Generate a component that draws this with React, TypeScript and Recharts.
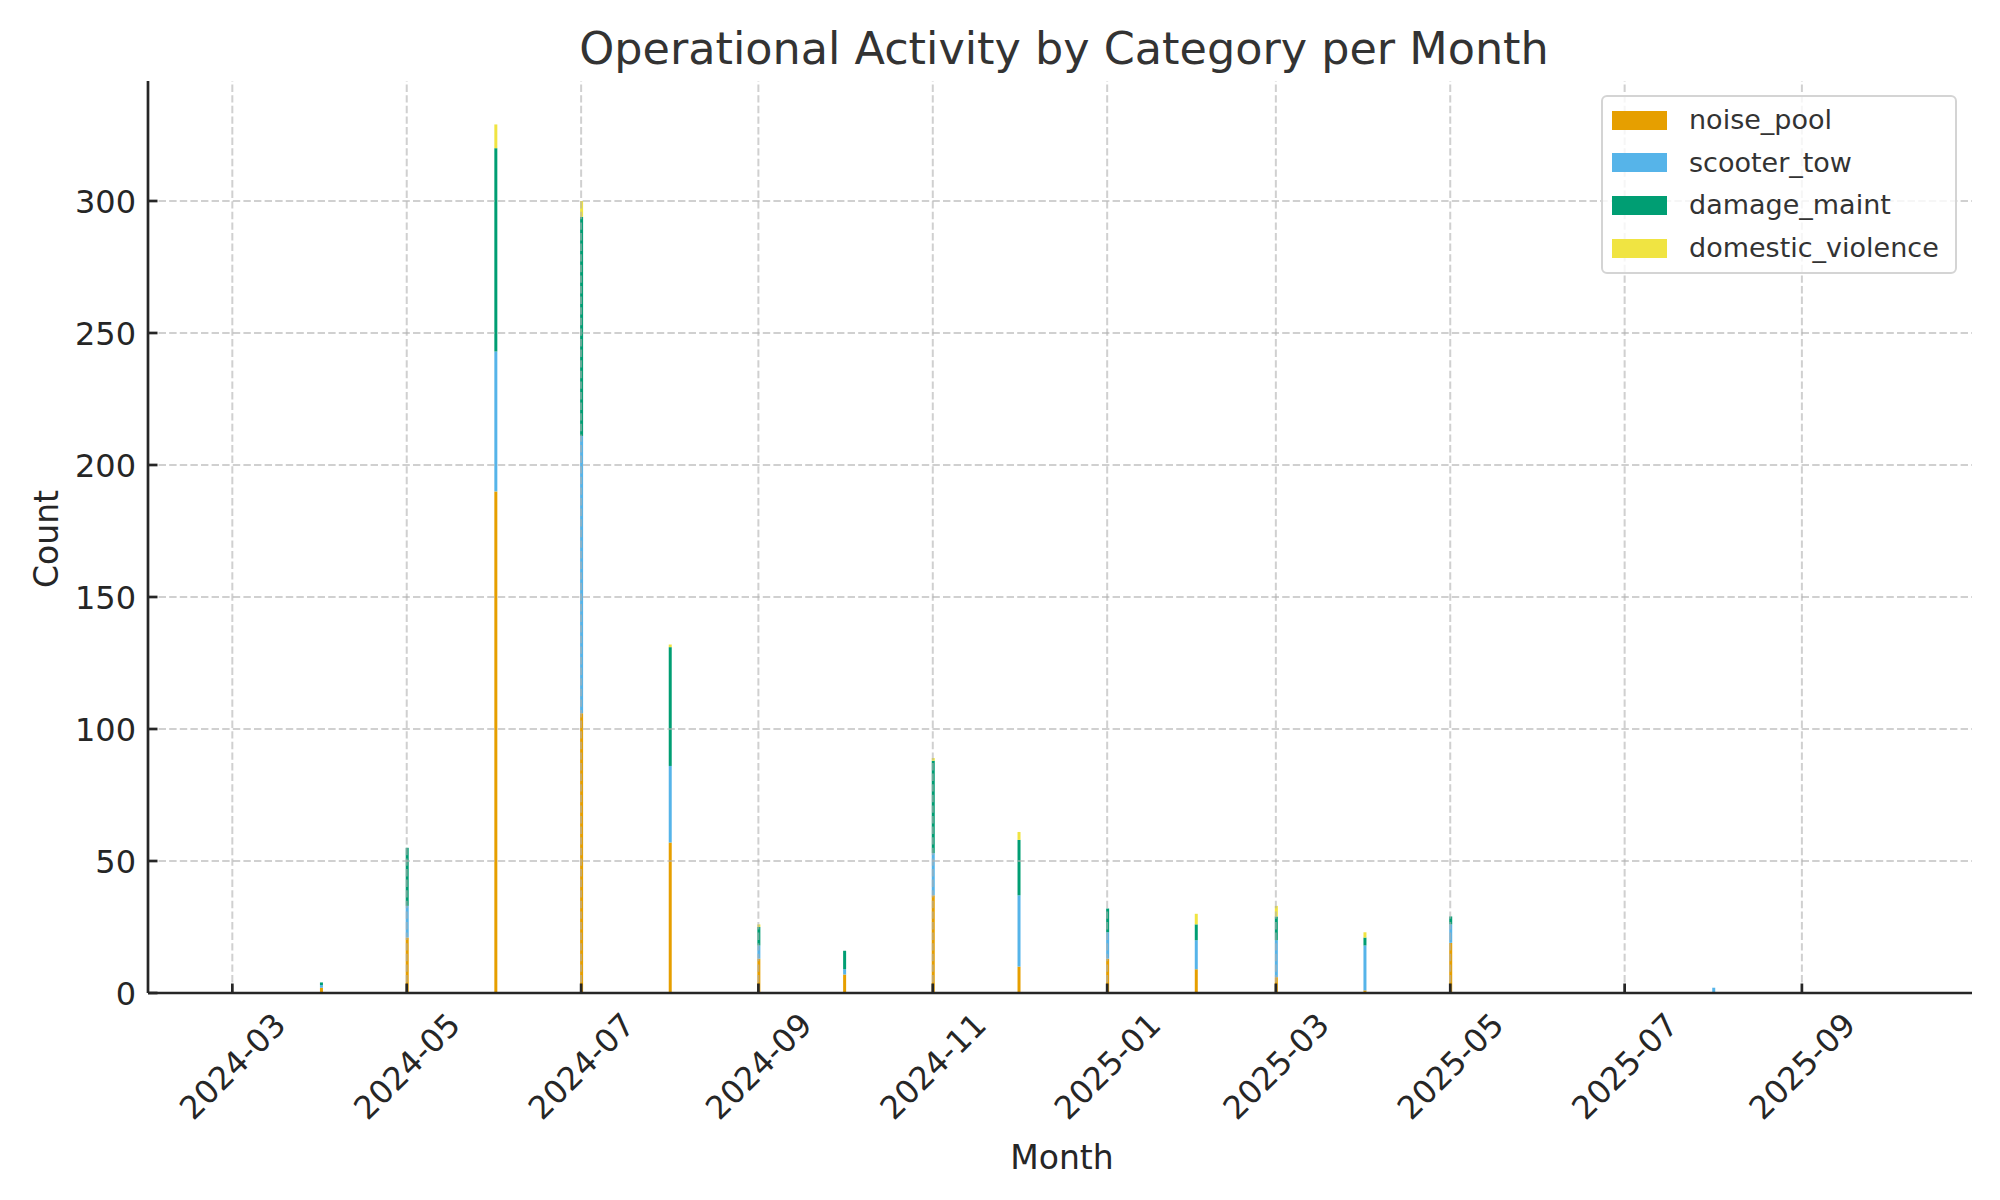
import React from 'react';
import { BarChart, Bar, XAxis, YAxis, ReferenceLine } from 'recharts';

// ---- Data ----
const months = [
  '2024-03', '2024-04', '2024-05', '2024-06', '2024-07', '2024-08', '2024-09', '2024-10',
  '2024-11', '2024-12', '2025-01', '2025-02', '2025-03', '2025-04', '2025-05', '2025-06',
  '2025-07', '2025-08', '2025-09', '2025-10',
];
const noise_pool = [0, 2, 21, 190, 106, 57, 13, 7, 37, 10, 13, 9, 6, 1, 19, 0, 0, 0, 0, 0];
const scooter_tow = [0, 1, 12, 53, 105, 29, 5, 2, 16, 27, 10, 11, 14, 17, 7, 0, 0, 2, 0, 0];
const damage_maint = [0, 1, 22, 77, 83, 45, 7, 7, 35, 21, 9, 6, 9, 3, 3, 0, 0, 0, 0, 0];
const domestic_violence = [0, 0, 0, 9, 6, 1, 1, 0, 1, 3, 0, 4, 4, 2, 0, 0, 0, 0, 0, 0];

const xTickLabels = ['2024-03', '2024-05', '2024-07', '2024-09', '2024-11', '2025-01', '2025-03', '2025-05', '2025-07', '2025-09'];
const yTickValues = [0, 50, 100, 150, 200, 250, 300];

const seriesNames = ['noise_pool', 'scooter_tow', 'damage_maint', 'domestic_violence'];
const seriesColors = ['#E69F00', '#56B4E9', '#009E73', '#F0E442'];
const seriesValues = [noise_pool, scooter_tow, damage_maint, domestic_violence];

// ---- Helpers ----
const toTs = (m: string) => {
  const [y, mo] = m.split('-').map(Number);
  return Date.UTC(y, mo - 1, 1);
};
const DAY = 86400000;

const data = months.map((m, i) => {
  const row: any = { t: toTs(m) };
  seriesNames.forEach((s, k) => {
    row[s] = seriesValues[k][i];
  });
  return row;
});

const totals = months.map((_, i) => seriesValues.reduce((a, arr) => a + arr[i], 0));
const yMax = Math.max(...totals) * 1.05;

const xFirst = toTs(months[0]) - DAY / 2;
const xLast = toTs(months[months.length - 1]) + DAY / 2;
const xMargin = (xLast - xFirst) * 0.05;
const xDomain = [xFirst - xMargin, xLast + xMargin];
const xTicks = xTickLabels.map(toTs);

const fmtMonth = (t: number) => {
  const d = new Date(t);
  return `${d.getUTCFullYear()}-${String(d.getUTCMonth() + 1).padStart(2, '0')}`;
};

const FONT = '"DejaVu Sans", sans-serif';
const TXT = '#262626';
const TICK_FS = 32;

const XTick = (props: any) => {
  const { x, y, payload } = props;
  const cy = y + 73;
  return (
    <g>
      <line x1={x} y1={y} x2={x} y2={y - 9.5} stroke={TXT} strokeWidth={2.7} />
      <text
        x={x}
        y={cy}
        dy="0.36em"
        textAnchor="middle"
        fontFamily={FONT}
        fontSize={TICK_FS}
        fill={TXT}
        transform={`rotate(-45 ${x} ${cy})`}
      >
        {fmtMonth(payload.value)}
      </text>
    </g>
  );
};

const YTick = (props: any) => {
  const { x, y, payload } = props;
  return (
    <g>
      <line x1={x} y1={y} x2={x + 9.5} y2={y} stroke={TXT} strokeWidth={2.7} />
      <text x={x - 12} y={y} dy="0.36em" textAnchor="end" fontFamily={FONT} fontSize={TICK_FS} fill={TXT}>
        {payload.value}
      </text>
    </g>
  );
};

const gridProps = {
  stroke: '#b0b0b0',
  strokeOpacity: 0.6,
  strokeWidth: 2,
  strokeDasharray: '7.4 3.2',
};

export default function App() {
  return (
    <div style={{ position: 'absolute', left: 0, top: 0, width: 2000, height: 1200, background: '#fff' }}>
      <BarChart
        width={2000}
        height={1200}
        data={data}
        margin={{ top: 81, right: 28, left: 48, bottom: 107 }}
        barSize={3}
      >
        <XAxis
          dataKey="t"
          type="number"
          domain={xDomain}
          allowDataOverflow
          ticks={xTicks}
          tick={<XTick />}
          tickLine={false}
          tickSize={0}
          tickMargin={0}
          height={100}
          axisLine={{ stroke: TXT, strokeWidth: 2.7 }}
          interval={0}
        />
        <YAxis
          type="number"
          domain={[0, yMax]}
          allowDataOverflow
          ticks={yTickValues}
          tick={<YTick />}
          tickLine={false}
          tickSize={0}
          tickMargin={0}
          width={100}
          axisLine={{ stroke: TXT, strokeWidth: 2.7 }}
          interval={0}
        />
        {seriesNames.map((s, k) => (
          <Bar key={s} dataKey={s} stackId="a" fill={seriesColors[k]} isAnimationActive={false} />
        ))}
        {xTicks.map((t) => (
          <ReferenceLine key={'gx' + t} x={t} {...gridProps} />
        ))}
        {yTickValues
          .filter((v) => v > 0)
          .map((v) => (
            <ReferenceLine key={'gy' + v} y={v} {...gridProps} />
          ))}
      </BarChart>

      <svg
        width={2000}
        height={1200}
        style={{ position: 'absolute', left: 0, top: 0, pointerEvents: 'none' }}
      >
        <text x={1064} y={64} textAnchor="middle" fontFamily={FONT} fontSize={44.5} fill="#333333">
          Operational Activity by Category per Month
        </text>
        <text x={1062} y={1169} textAnchor="middle" fontFamily={FONT} fontSize={33} fill={TXT}>
          Month
        </text>
        <text
          x={58}
          y={539}
          textAnchor="middle"
          fontFamily={FONT}
          fontSize={33}
          fill={TXT}
          transform="rotate(-90 58 539)"
        >
          Count
        </text>
      </svg>

      <div
        style={{
          position: 'absolute',
          left: 1601,
          top: 95,
          width: 352,
          height: 175,
          border: '2px solid #d4d4d4',
          borderRadius: 6,
          background: 'rgba(255,255,255,0.8)',
          fontFamily: FONT,
          fontSize: 27,
          color: '#333333',
        }}
      >
        {seriesNames.map((s, k) => (
          <div
            key={s}
            style={{ position: 'absolute', left: 0, top: 2 + k * 42.7, height: 42, display: 'flex', alignItems: 'center' }}
          >
            <div style={{ marginLeft: 9, width: 55, height: 19, background: seriesColors[k] }} />
            <div style={{ marginLeft: 22, whiteSpace: 'nowrap', lineHeight: '42px' }}>{s}</div>
          </div>
        ))}
      </div>
    </div>
  );
}
